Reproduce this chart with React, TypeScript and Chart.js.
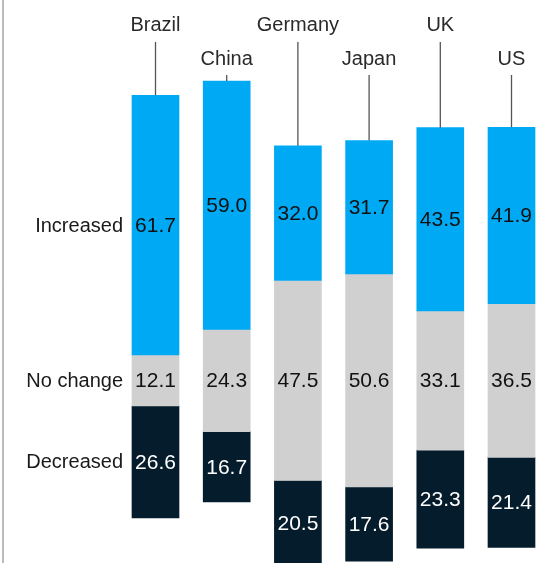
import React, { useEffect, useRef } from "react";
import { Chart, registerables } from "chart.js";

Chart.register(...registerables);

const countries = ["Brazil", "China", "Germany", "Japan", "UK", "US"];
const increased = [61.7, 59.0, 32.0, 31.7, 43.5, 41.9];
const noChange = [12.1, 24.3, 47.5, 50.6, 33.1, 36.5];
const decreased = [26.6, 16.7, 20.5, 17.6, 23.3, 21.4];
const seriesLabels = ["Increased", "No change", "Decreased"];

const FONT = '"Liberation Sans", Arial, Helvetica, sans-serif';
const BLUE = "#00a9f4";
const GRAY = "#d0d0d0";
const NAVY = "#051c2c";

const labelsPlugin = {
  id: "customLabels",
  afterDatasetsDraw(chart: any) {
    const ctx = chart.ctx;
    ctx.save();
    // left border line
    ctx.strokeStyle = "#7a7a7a";
    ctx.lineWidth = 1;
    ctx.beginPath();
    ctx.moveTo(3, 0);
    ctx.lineTo(3, chart.height);
    ctx.stroke();

    const metas = chart.data.datasets.map((_: any, i: number) => chart.getDatasetMeta(i));
    // value labels
    metas.forEach((meta: any, di: number) => {
      const values = chart.data.datasets[di].rawValues as number[];
      meta.data.forEach((bar: any, i: number) => {
        const top = Math.min(bar.y, bar.base);
        const bot = Math.max(bar.y, bar.base);
        const cy = (top + bot) / 2;
        ctx.font = `21px ${FONT}`;
        ctx.textAlign = "center";
        ctx.textBaseline = "middle";
        ctx.fillStyle = chart.data.datasets[di].valueColor;
        ctx.fillText(values[i].toFixed(1), bar.x, cy + 1);
      });
    });

    // series labels on the left, aligned with first bar segments
    metas.forEach((meta: any, di: number) => {
      const bar = meta.data[0];
      const top = Math.min(bar.y, bar.base);
      const bot = Math.max(bar.y, bar.base);
      const cy = (top + bot) / 2;
      ctx.font = `20px ${FONT}`;
      ctx.textAlign = "right";
      ctx.textBaseline = "middle";
      ctx.fillStyle = "#1a1a1a";
      ctx.fillText(chart.data.datasets[di].label, bar.x - bar.width / 2 - 9, cy + 1);
    });

    // country labels with leader lines
    const incMeta = metas[0];
    incMeta.data.forEach((bar: any, i: number) => {
      const top = Math.min(bar.y, bar.base);
      const row = i % 2;
      const baseline = row === 0 ? 31 : 65;
      const lineStart = row === 0 ? 42 : 75;
      ctx.font = `20px ${FONT}`;
      ctx.textAlign = "center";
      ctx.textBaseline = "alphabetic";
      ctx.fillStyle = "#2a2a2a";
      ctx.fillText(chart.data.labels[i], bar.x, baseline);
      ctx.strokeStyle = "#555555";
      ctx.lineWidth = 1.3;
      ctx.beginPath();
      ctx.moveTo(bar.x, lineStart);
      ctx.lineTo(bar.x, top);
      ctx.stroke();
    });
    ctx.restore();
  },
};

export default function App() {
  const ref = useRef<HTMLCanvasElement | null>(null);
  useEffect(() => {
    if (!ref.current) return;
    const incData = countries.map((_, i) => [noChange[i] / 2, noChange[i] / 2 + increased[i]]);
    const ncData = countries.map((_, i) => [-noChange[i] / 2, noChange[i] / 2]);
    const decData = countries.map((_, i) => [-(noChange[i] / 2 + decreased[i]), -noChange[i] / 2]);
    const chart = new Chart(ref.current, {
      type: "bar",
      data: {
        labels: countries,
        datasets: [
          { label: seriesLabels[0], data: incData as any, backgroundColor: BLUE, rawValues: increased, valueColor: "#111111", clip: false } as any,
          { label: seriesLabels[1], data: ncData as any, backgroundColor: GRAY, rawValues: noChange, valueColor: "#111111", clip: false } as any,
          { label: seriesLabels[2], data: decData as any, backgroundColor: NAVY, rawValues: decreased, valueColor: "#ffffff", clip: false } as any,
        ],
      },
      options: {
        animation: false,
        responsive: false,
        layout: { padding: { left: 155.5, right: 26.5, top: 0, bottom: 0 } },
        datasets: { bar: { barThickness: 47, borderWidth: 0 } } as any,
        plugins: { legend: { display: false }, tooltip: { enabled: false } },
        scales: {
          x: { type: "category", stacked: true, offset: false, display: false },
          y: { type: "linear", stacked: false, min: -43.35, max: 90.38, display: false },
        },
      },
      plugins: [labelsPlugin],
    });
    return () => chart.destroy();
  }, []);
  return (
    <div style={{ position: "fixed", left: 0, top: 0, width: 538, height: 563, background: "#fff", overflow: "hidden" }}>
      <canvas ref={ref} width={538} height={563} style={{ display: "block", width: 538, height: 563 }} />
    </div>
  );
}
